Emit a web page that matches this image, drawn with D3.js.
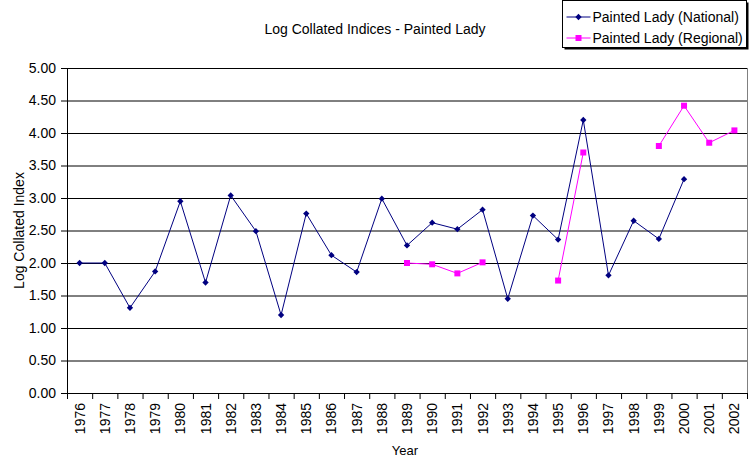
<!DOCTYPE html>
<html>
<head>
<meta charset="utf-8">
<style>
  body { margin: 0; background: #fff; }
  svg text { font-family: "Liberation Sans", Arial, sans-serif; fill: #000; }
  .grid line { stroke: #000; }
  .grid .domain { display: none; }
</style>
<title>Log Collated Indices - Painted Lady</title>
</head>
<body>
<svg id="chart"></svg>
<script src="https://cdn.jsdelivr.net/npm/d3@7"></script>
<script>
// Data
var years = [1976, 1977, 1978, 1979, 1980, 1981, 1982, 1983, 1984, 1985, 1986, 1987, 1988, 1989,
             1990, 1991, 1992, 1993, 1994, 1995, 1996, 1997, 1998, 1999, 2000, 2001, 2002];
var national = [2.00, 2.00, 1.31, 1.87, 2.95, 1.70, 3.04, 2.49, 1.20, 2.76, 2.12, 1.86, 2.99, 2.27,
                2.62, 2.52, 2.82, 1.45, 2.73, 2.36, 4.20, 1.81, 2.65, 2.37, 3.29, null, null];
var regional = [null, null, null, null, null, null, null, null, null, null, null, null, null, 2.00,
                1.98, 1.84, 2.01, null, null, 1.73, 3.70, null, null, 3.80, 4.42, 3.85, 4.04];
var yTicks = [0, 0.5, 1, 1.5, 2, 2.5, 3, 3.5, 4, 4.5, 5];

var W = 749, H = 457;
var margin = { top: 68, left: 67, right: 2, bottom: 64 };
var width = W - margin.left - margin.right,
    height = H - margin.top - margin.bottom;

var svg = d3.select('#chart').attr('width', W).attr('height', H);

// title
svg.append('text')
    .attr('x', 375).attr('y', 34)
    .attr('text-anchor', 'middle')
    .style('font-size', '14px')
    .text('Log Collated Indices - Painted Lady');

var g = svg.append('g')
    .attr('transform', 'translate(' + margin.left + ',' + margin.top + ')');

// scales
var x = d3.scaleBand().domain(years).range([0, width]).padding(0);
var xEdge = d3.scaleLinear().domain([0, years.length]).range([0, width]);
var y = d3.scaleLinear().domain([0, 5]).range([height, 0]);

// gridlines
g.append('g')
    .attr('class', 'grid')
    .call(d3.axisLeft(y).tickValues(yTicks).tickSize(-width).tickFormat(''));

// right border
g.append('line')
    .attr('x1', width + 0.5).attr('x2', width + 0.5)
    .attr('y1', 0).attr('y2', height)
    .attr('stroke', '#808080');

// y axis
var yAxis = g.append('g')
    .call(d3.axisLeft(y).tickValues(yTicks).tickSize(6).tickPadding(5).tickFormat(d3.format('.2f')));
yAxis.selectAll('text').style('font-size', '14px');

// x axis tick marks at category edges
g.append('g')
    .attr('transform', 'translate(0,' + height + ')')
    .call(d3.axisBottom(xEdge).tickValues(d3.range(years.length + 1)).tickSize(6).tickFormat(''));

// x labels
var xAxis = g.append('g')
    .attr('transform', 'translate(0,' + height + ')')
    .call(d3.axisBottom(x).tickSize(0).tickPadding(0));
xAxis.select('.domain').remove();
xAxis.selectAll('text')
    .style('font-size', '14px')
    .attr('text-anchor', 'end')
    .attr('dy', null)
    .attr('transform', 'translate(5,10) rotate(-90)');

// axis titles
svg.append('text')
    .attr('transform', 'translate(24,' + (margin.top + height / 2) + ') rotate(-90)')
    .attr('text-anchor', 'middle')
    .style('font-size', '14px')
    .text('Log Collated Index');

svg.append('text')
    .attr('x', margin.left + width / 2 - 2).attr('y', 455)
    .attr('text-anchor', 'middle')
    .style('font-size', '13px')
    .text('Year');

// series
var series = [
    { name: 'Painted Lady (National)', values: national, color: '#000080', size: 20, rot: 45 },
    { name: 'Painted Lady (Regional)', values: regional, color: '#ff00ff', size: 36, rot: 0 }
];

var line = d3.line()
    .defined(function (d) { return d.v != null; })
    .x(function (d) { return x(d.year) + x.bandwidth() / 2; })
    .y(function (d) { return y(d.v); });

series.forEach(function (s) {
    var pts = years.map(function (yr, i) { return { year: yr, v: s.values[i] }; });
    g.append('path')
        .datum(pts)
        .attr('fill', 'none')
        .attr('stroke', s.color)
        .attr('stroke-width', 1)
        .attr('d', line);
    g.selectAll(null)
        .data(pts.filter(function (d) { return d.v != null; }))
        .enter().append('path')
        .attr('d', d3.symbol().type(d3.symbolSquare).size(s.size))
        .attr('fill', s.color)
        .attr('transform', function (d) {
            return 'translate(' + (x(d.year) + x.bandwidth() / 2) + ',' + y(d.v) + ') rotate(' + s.rot + ')';
        });
});

// legend
var lg = svg.append('g').attr('transform', 'translate(562.5,0.5)');
lg.append('rect').attr('x', 2).attr('y', 2).attr('width', 184).attr('height', 47).attr('fill', '#000');
lg.append('rect').attr('x', 0).attr('y', 0).attr('width', 184).attr('height', 47)
    .attr('fill', '#fff').attr('stroke', '#000');
series.forEach(function (s, i) {
    var cy = 16.5 + i * 21;
    lg.append('line')
        .attr('x1', 4).attr('x2', 28).attr('y1', cy).attr('y2', cy)
        .attr('stroke', s.color);
    lg.append('path')
        .attr('d', d3.symbol().type(d3.symbolSquare).size(s.size))
        .attr('fill', s.color)
        .attr('transform', 'translate(16,' + cy + ') rotate(' + s.rot + ')');
    lg.append('text')
        .attr('x', 30).attr('y', cy + 5)
        .style('font-size', '14px')
        .text(s.name);
});
</script>
</body>
</html>
